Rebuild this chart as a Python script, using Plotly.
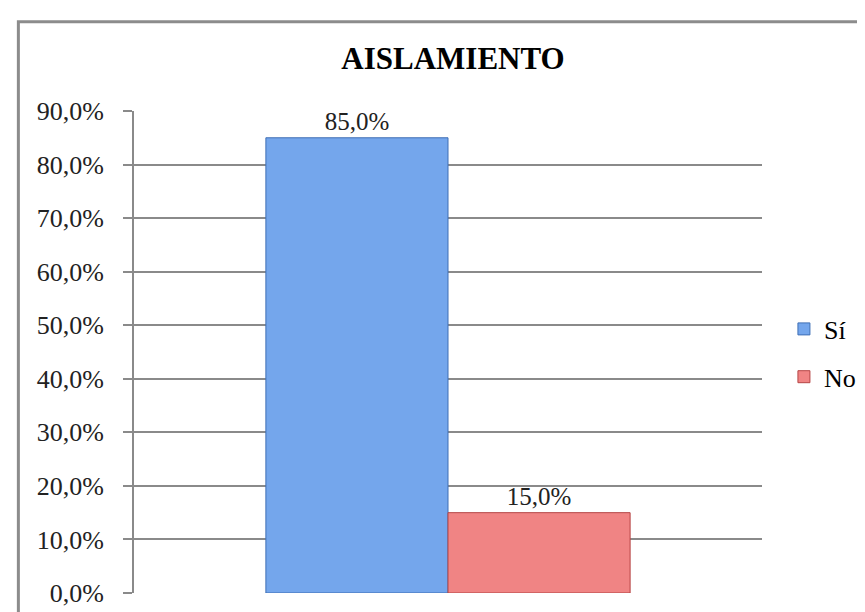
import plotly.graph_objects as go

title_text = "AISLAMIENTO"
category = [""]
series_names = ["Sí", "No"]
series_values = [[0.85], [0.15]]
series_colors = ["#74A6EC", "#F08484"]
series_lines = ["#3F6FB5", "#B54545"]
y_ticks = [0, 0.1, 0.2, 0.3, 0.4, 0.5, 0.6, 0.7, 0.8, 0.9]

FONT = "Liberation Serif"

fig = go.Figure()
for i, (name, vals) in enumerate(zip(series_names, series_values)):
    fig.add_trace(go.Bar(
        x=category, y=vals, name=name,
        marker=dict(color=series_colors[i], line=dict(color=series_lines[i], width=1)),
        texttemplate="%{y:.1%}", textposition="outside",
        textfont=dict(family=FONT, size=25, color="#222"),
        cliponaxis=False, legendgroup=name,
    ))

W, H = 865, 612
L, R, T, B = 126, 109, 103, 23
pw, ph = W - L - R, H - T - B

def px_x(p):
    return (p - L) / pw

def px_y(p):
    return (H - B - p) / ph

fig.update_layout(
    width=W, height=H,
    margin=dict(l=L, r=R, t=T, b=B),
    paper_bgcolor="white", plot_bgcolor="white",
    separators=",.",
    barmode="group", bargap=0.42, bargroupgap=0,
    title=dict(text="<b>%s</b>" % title_text, x=445 / W, y=1 - 50 / H,
               xanchor="center", yanchor="middle",
               font=dict(family=FONT, size=31, color="black")),
    showlegend=True,
    legend=dict(x=px_x(778), xanchor="left", y=px_y(347), yanchor="middle",
                font=dict(family=FONT, size=26, color="black"),
                tracegroupgap=11, bgcolor="rgba(0,0,0,0)"),
    xaxis=dict(showticklabels=False, showgrid=False, zeroline=False, showline=False, ticks=""),
    yaxis=dict(range=[0, 0.9], tickvals=y_ticks, tickformat=".1%",
               showgrid=True, gridcolor="#8a8a8a", gridwidth=2,
               zeroline=False, showline=True, linecolor="#8a8a8a", linewidth=2,
               ticks="outside", ticklen=9, tickcolor="#8a8a8a", tickwidth=2,
               ticklabelstandoff=14,
               tickfont=dict(family=FONT, size=26, color="#222")),
    shapes=[dict(type="rect", xref="paper", yref="paper",
                 x0=px_x(10), x1=px_x(900), y0=px_y(640), y1=px_y(13),
                 line=dict(color="#8c8c8c", width=3), fillcolor="rgba(0,0,0,0)", layer="below")],
)

fig.write_html("out.html")
